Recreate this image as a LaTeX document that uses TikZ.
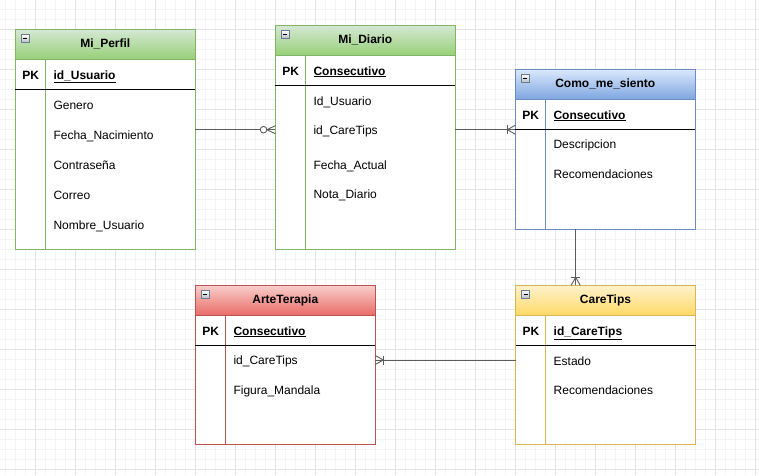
\documentclass[tikz,border=0pt]{standalone}
\usepackage{fontspec}
\setmainfont{Liberation Sans}
\usetikzlibrary{calc}
\definecolor{gridminor}{HTML}{F4F4F4}
\definecolor{gridmajor}{HTML}{E3E3E3}
\definecolor{gTop}{HTML}{D5E8D4}\definecolor{gBot}{HTML}{97D077}\definecolor{gStr}{HTML}{82B366}
\definecolor{bTop}{HTML}{DAE8FC}\definecolor{bBot}{HTML}{7EA6E0}\definecolor{bStr}{HTML}{6C8EBF}
\definecolor{rTop}{HTML}{F8CECC}\definecolor{rBot}{HTML}{EA6B66}\definecolor{rStr}{HTML}{B85450}
\definecolor{yTop}{HTML}{FFF2CC}\definecolor{yBot}{HTML}{FFD966}\definecolor{yStr}{HTML}{D6B656}
\definecolor{conn}{HTML}{5C5C5C}
\definecolor{iconB}{HTML}{6D7B8D}
\definecolor{iconG}{HTML}{B8BEC6}
\tikzset{
  erbox/.style={rectangle, minimum width=180, fill=white, line width=0.9pt, inner sep=0pt, outer sep=0pt},
  erhead/.style={rectangle, minimum width=180, minimum height=30, line width=0.9pt, inner sep=0pt, outer sep=0pt,
    font=\fontsize{12}{14}\selectfont\bfseries},
  fld/.style={anchor=west, inner sep=0pt, text height=8.6pt, text depth=0pt, font=\fontsize{12}{14}\selectfont},
  pkl/.style={inner sep=0pt, text height=8.6pt, text depth=0pt, font=\fontsize{12}{14}\selectfont\bfseries},
  pkn/.style={anchor=west, inner sep=0pt, text height=8.6pt, text depth=0pt, font=\fontsize{12}{14}\selectfont\bfseries},
  connline/.style={draw=conn, line width=0.9pt},
  minusicon/.pic={
    \draw[draw=iconB, top color=white, bottom color=iconG, line width=0.6pt] (0,0) rectangle (8,8);
    \draw[black, line width=1.3pt] (2,4) -- (6,4);
  }
}
\newcommand{\erentity}[6]{%
  \node[erbox, draw=#4Str, minimum height=#3, anchor=north west] (#1) at (#2) {};
  \node[erhead, draw=#4Str, top color=#4Top, bottom color=#4Bot, anchor=north west] (#1H) at (#1.north west) {#5};
  \draw[#4Str, line width=0.9pt] ($(#1.north west)+(30,30)$) -- ($(#1.south west)+(30,0)$);
  \draw[black, line width=0.9pt] ($(#1.north west)+(0,60)$) -- ($(#1.north east)+(0,60)$);
  \node[pkl] (#1PK) at ($(#1.north west)+(15.5,45.5)$) {PK};
  \node[pkn] (#1K) at ($(#1.north west)+(38,45.5)$) {\underline{#6}};
  \pic at ($(#1.north west)+(6,5)$) {minusicon};
}
% many end: local +x points into the entity, origin on the entity border
\newcommand{\oneManyEnd}[2]{%
  \begin{scope}[shift={(#1)}, rotate=#2]
    \draw[connline] (-8,0) -- (0,-4.5) (-8,0) -- (0,4.5);
    \draw[connline] (-8,-4.5) -- (-8,4.5);
  \end{scope}}
\newcommand{\zeroManyEnd}[2]{%
  \begin{scope}[shift={(#1)}, rotate=#2]
    \draw[connline] (-8.5,0) -- (0,-4) (-8.5,0) -- (0,4);
    \draw[connline, fill=white] (-11.8,0) circle (3.3);
  \end{scope}}
\begin{document}
\begin{tikzpicture}[x=1pt, y=-1pt]
\useasboundingbox (0,0) rectangle (759,475);
\fill[white] (0,0) rectangle (759,475);
% grid
\foreach \x in {5,15,...,755} \draw[gridminor, line width=0.7pt] (\x,0) -- (\x,475);
\foreach \y in {9.3,19.3,...,470} \draw[gridminor, line width=0.7pt] (0,\y) -- (759,\y);
\foreach \x in {35,75,...,755} \draw[gridmajor, line width=0.8pt] (\x,0) -- (\x,475);
\foreach \y in {29.3,69.3,...,470} \draw[gridmajor, line width=0.8pt] (0,\y) -- (759,\y);

% entities
\erentity{perfil}{15.3,29.3}{220}{g}{Mi\_Perfil}{id\_Usuario}
\node[fld] (pf1) at ($(perfil.north west)+(38,75.7)$) {Genero};
\node[fld] (pf2) at ($(perfil.north west)+(38,105.7)$) {Fecha\_Nacimiento};
\node[fld] (pf3) at ($(perfil.north west)+(38,135.7)$) {Contraseña};
\node[fld] (pf4) at ($(perfil.north west)+(38,165.7)$) {Correo};
\node[fld] (pf5) at ($(perfil.north west)+(38,195.7)$) {Nombre\_Usuario};

\erentity{diario}{275.3,25.3}{224}{g}{Mi\_Diario}{Consecutivo}
\node[fld] (df1) at ($(diario.north west)+(38,75.4)$) {Id\_Usuario};
\node[fld] (df2) at ($(diario.north west)+(38,104.4)$) {id\_CareTips};
\node[fld] (df3) at ($(diario.north west)+(38,139.7)$) {Fecha\_Actual};
\node[fld] (df4) at ($(diario.north west)+(38,168.7)$) {Nota\_Diario};

\erentity{como}{515.3,69.3}{160}{b}{Como\_me\_siento}{Consecutivo}
\node[fld] (cf1) at ($(como.north west)+(38,75)$) {Descripcion};
\node[fld] (cf2) at ($(como.north west)+(38,105)$) {Recomendaciones};

\erentity{care}{515.5,285.3}{159.5}{y}{CareTips}{id\_CareTips}
\node[fld] (tf1) at ($(care.north west)+(38,75.4)$) {Estado};
\node[fld] (tf2) at ($(care.north west)+(38,104.7)$) {Recomendaciones};

\erentity{arte}{195.3,285.3}{159.5}{r}{ArteTerapia}{Consecutivo}
\node[fld] (af1) at ($(arte.north west)+(38,74.7)$) {id\_CareTips};
\node[fld] (af2) at ($(arte.north west)+(38,104.7)$) {Figura\_Mandala};

% connectors
\coordinate (c3) at (575.7,257);
\draw[connline] (perfil.east |- df2.west) -- (diario.west |- df2.west);
\zeroManyEnd{diario.west |- df2.west}{0}
\draw[connline] (diario.east |- df2.west) -- (como.west |- df2.west);
\oneManyEnd{como.west |- df2.west}{0}
\draw[connline] (como.south -| c3) -- (care.north -| c3);
\oneManyEnd{care.north -| c3}{-90}
\draw[connline] (care.west |- af1.west) -- (arte.east |- af1.west);
\oneManyEnd{arte.east |- af1.west}{180}
\end{tikzpicture}
\end{document}
